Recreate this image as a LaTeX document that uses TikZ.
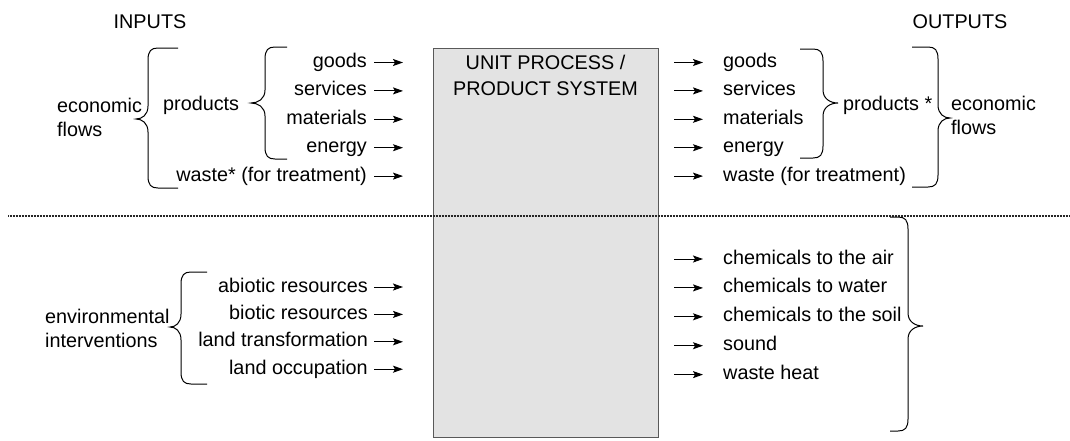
\documentclass[tikz,border=0pt]{standalone}
\usepackage{fontspec}
\setmainfont{Liberation Sans}
\usepackage{tikz}
\usetikzlibrary{positioning}
\usetikzlibrary{arrows.meta}

\definecolor{boxgray}{gray}{0.89}
\definecolor{edgegray}{gray}{0.35}

% curly bracket: vertical x, top, bottom, tip y, tip x, arm end x, corner offset
\newcommand{\curly}[7]{%
  \draw[bracket] (#6,#2) -- ({#1+#7},#2) .. controls ({#1+0.3*#7},#2) and (#1,{#2+3}) .. (#1,{#2+12})
    -- (#1,{#4-13}) .. controls (#1,{#4-4}) and ({(#1+#5)/2},#4) .. (#5,#4)
    .. controls ({(#1+#5)/2},#4) and (#1,{#4+4}) .. (#1,{#4+13}) -- (#1,{#3-12})
    .. controls (#1,{#3-3}) and ({#1+0.3*#7},#3) .. ({#1+#7},#3) -- (#6,#3);}

\begin{document}
\begin{tikzpicture}[x=1pt, y=-1pt, node distance=6pt,
                    lbl/.style={font=\fontsize{19.8}{24}\selectfont, inner sep=2pt, text height=14pt, text depth=4pt},
                    lbltwo/.style={font=\fontsize{19.8}{24}\selectfont, inner sep=2pt, align=left},
                    unitbox/.style={rectangle, draw=edgegray, fill=boxgray, line width=1pt, inner sep=0pt},
                    flow/.style={-{Stealth[length=10pt,width=7pt,inset=2pt]}, line width=1pt},
                    bracket/.style={line width=1pt},
                    divider/.style={line width=1.5pt, dash pattern=on 1pt off 0.5pt, black!85}
                   ]
\useasboundingbox (0,0) rectangle (1070,440);
%Nodes
\node[lbl] (inputs)  at (150,23) {INPUTS};
\node[lbl] (outputs) at (960,23) {OUTPUTS};
\node[unitbox, anchor=north west, minimum width=225pt, minimum height=389pt] (unit) at (433,48) {};
\node[lbltwo, align=center, anchor=north] (title) at (545.5,53) {UNIT PROCESS /\\[2pt]PRODUCT SYSTEM};

\node[lbltwo, anchor=north west] (inecon) at (55,96) {economic\\flows};
\node[lbl, anchor=west] (inprod) at (161,105) {products};
\node[lbl, anchor=east] (ingoods) at (369,62.5) {goods};
\node[lbl, below=of ingoods.south east, anchor=north east]  (inserv)   {services};
\node[lbl, below=of inserv.south east, anchor=north east]   (inmat)    {materials};
\node[lbl, below=of inmat.south east, anchor=north east]    (inenergy) {energy};
\node[lbl, below=of inenergy.south east, anchor=north east] (inwaste)  {waste* (for treatment)};

\node[lbl, anchor=west] (outgoods) at (721,62.5) {goods};
\node[lbl, below=of outgoods.south west, anchor=north west]  (outserv)   {services};
\node[lbl, below=of outserv.south west, anchor=north west]   (outmat)    {materials};
\node[lbl, below=of outmat.south west, anchor=north west]    (outenergy) {energy};
\node[lbl, below=of outenergy.south west, anchor=north west] (outwaste)  {waste (for treatment)};
\node[lbl, anchor=west] (outprod) at (841,105) {products *};
\node[lbltwo, anchor=north west] (outecon) at (949,94) {economic\\flows};

\node[lbltwo, anchor=north west] (inenv) at (43,307) {environmental\\interventions};
\node[lbl, anchor=east] (abiotic) at (370,287) {abiotic resources};
\node[lbl, below=5pt of abiotic.south east, anchor=north east] (biotic)    {biotic resources};
\node[lbl, below=5pt of biotic.south east, anchor=north east]  (landtrans) {land transformation};
\node[lbl, below=5pt of landtrans.south east, anchor=north east] (landocc) {land occupation};

\node[lbl, anchor=west] (air) at (721,259) {chemicals to the air};
\node[lbl, below=6.5pt of air.south west, anchor=north west]   (water) {chemicals to water};
\node[lbl, below=6.5pt of water.south west, anchor=north west] (soil)  {chemicals to the soil};
\node[lbl, below=6.5pt of soil.south west, anchor=north west]  (sound) {sound};
\node[lbl, below=6.5pt of sound.south west, anchor=north west] (heat)  {waste heat};

\coordinate (inend)    at (403,0);
\coordinate (outstart) at (674,0);
\coordinate (outend)   at (703,0);
\coordinate (divleft)  at (8,216);
\coordinate (divright) at (1070,216);

%Lines
\draw[divider] (divleft) -- (divright);

\draw[flow, shorten <=5pt] (ingoods.east)  -- (ingoods.east -| inend);
\draw[flow, shorten <=5pt] (inserv.east)   -- (inserv.east -| inend);
\draw[flow, shorten <=5pt] (inmat.east)    -- (inmat.east -| inend);
\draw[flow, shorten <=5pt] (inenergy.east) -- (inenergy.east -| inend);
\draw[flow, shorten <=5pt] (inwaste.east)  -- (inwaste.east -| inend);

\draw[flow] (outgoods.west -| outstart)  -- (outgoods.west -| outend);
\draw[flow] (outserv.west -| outstart)   -- (outserv.west -| outend);
\draw[flow] (outmat.west -| outstart)    -- (outmat.west -| outend);
\draw[flow] (outenergy.west -| outstart) -- (outenergy.west -| outend);
\draw[flow] (outwaste.west -| outstart)  -- (outwaste.west -| outend);

\draw[flow, shorten <=4pt] (abiotic.east)   -- (abiotic.east -| inend);
\draw[flow, shorten <=4pt] (biotic.east)    -- (biotic.east -| inend);
\draw[flow, shorten <=4pt] (landtrans.east) -- (landtrans.east -| inend);
\draw[flow, shorten <=4pt] (landocc.east)   -- (landocc.east -| inend);

\draw[flow] (air.west -| outstart)   -- (air.west -| outend);
\draw[flow] (water.west -| outstart) -- (water.west -| outend);
\draw[flow] (soil.west -| outstart)  -- (soil.west -| outend);
\draw[flow] (sound.west -| outstart) -- (sound.west -| outend);
\draw[flow] (heat.west -| outstart)  -- (heat.west -| outend);

% brackets
\curly{148}{48}{188}{119}{136}{178}{10}
\curly{265}{47}{159}{103}{251}{287}{10}
\curly{823}{49}{158}{103}{838}{800}{-10}
\curly{938}{47}{187}{118}{950}{912}{-10}
\curly{181}{272}{384}{327}{170}{207}{10}
\curly{908}{217}{431}{326}{923}{890}{-10}
\end{tikzpicture}
\end{document}
